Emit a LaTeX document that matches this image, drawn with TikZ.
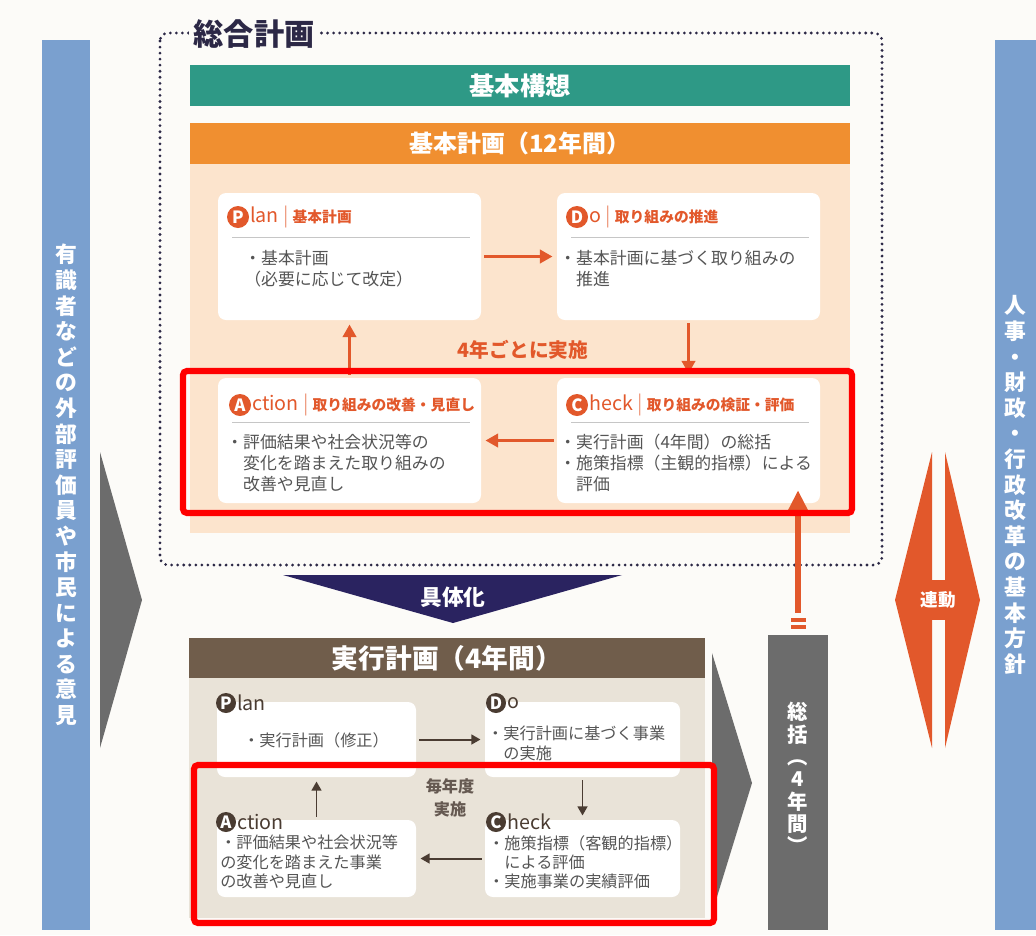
\documentclass[tikz,border=0pt]{standalone}
\usepackage{fontspec}
\setmainfont{Noto Sans CJK JP}
\usetikzlibrary{positioning,fit,arrows.meta}

\definecolor{bgcream}{RGB}{252,251,248}
\definecolor{sideblue}{RGB}{122,160,207}
\definecolor{arrowgray}{RGB}{108,108,108}
\definecolor{kousogreen}{RGB}{46,153,134}
\definecolor{keikakuorange}{RGB}{240,143,48}
\definecolor{peach}{RGB}{252,228,205}
\definecolor{pdcared}{RGB}{226,88,43}
\definecolor{jikkobrown}{RGB}{112,93,75}
\definecolor{beige}{RGB}{233,227,216}
\definecolor{darkbrown}{RGB}{74,60,50}
\definecolor{navy}{RGB}{42,35,96}
\definecolor{titlenavy}{RGB}{44,40,70}
\definecolor{bodygray}{RGB}{85,85,85}
\definecolor{markred}{RGB}{255,0,0}

\newcommand{\labeljp}{\fontsize{10.5}{12}\selectfont\bfseries}

\begin{document}
\begin{tikzpicture}[x=0.025cm, y=-0.025cm, inner sep=0pt,
	tate/.style={text=white, align=center, font=\fontsize{15.5}{18.2}\selectfont\bfseries},
	band/.style={text=white, font=\fontsize{17}{20}\selectfont\bfseries},
	card/.style={fill=white, rounded corners=0.2cm},
	upbody/.style={anchor=north west, align=left, text=bodygray, font=\fontsize{12}{15}\selectfont},
	lowbody/.style={anchor=north west, align=left, text=bodygray, font=\fontsize{11.5}{13.8}\selectfont},
	upletter/.style={circle, fill=pdcared, text=white, minimum size=0.55cm, font=\fontsize{12}{12}\selectfont\bfseries},
	lowletter/.style={circle, fill=darkbrown, text=white, minimum size=0.5cm, font=\fontsize{12}{12}\selectfont\bfseries},
	uplabel/.style={text=pdcared, font=\fontsize{14}{14}\selectfont},
	lowlabel/.style={text=darkbrown, font=\fontsize{14}{14}\selectfont},
	uparrow/.style={draw=pdcared, line width=2.1pt, -{Triangle[length=9pt,width=9.5pt]}, shorten <=2pt, shorten >=3pt},
	lowarrow/.style={draw=darkbrown, line width=1.4pt, -{Triangle[length=6.5pt,width=7pt]}, shorten <=2pt, shorten >=3pt},
	marker/.style={draw=markred, line width=4.4pt, rounded corners=0.1cm}]
%			\draw[help lines] (0,0) grid (1036,935);
			\useasboundingbox (0,0) rectangle (1036,935);
			\fill[bgcream] (0,0) rectangle (1036,935);
			% side bars
			\node[fill=sideblue, fit={(42,40) (90,930)}] (iken) {};
			\node[tate] (ikenT) at (iken) {有\\識\\者\\な\\ど\\の\\外\\部\\評\\価\\員\\や\\市\\民\\に\\よ\\る\\意\\見};
			\node[fill=sideblue, fit={(995,40) (1036,930)}] (hoshin) {};
			\node[tate] (hoshinT) at (hoshin) {人\\事\\・\\財\\政\\・\\行\\政\\改\\革\\の\\基\\本\\方\\針};
			\fill[arrowgray] (100,452) -- (142,600) -- (100,748) -- cycle;
			% sogo keikaku
			\draw[titlenavy, line width=2.2pt, line cap=round, dash pattern=on 0pt off 4.3pt, rounded corners=0.2cm] (160,33) rectangle (882,565);
			\node[fill=bgcream, inner xsep=3pt, text=titlenavy, font=\fontsize{21.5}{22}\selectfont\bfseries] (sogo) at (254,34) {総合計画};
			\node[fill=kousogreen, fit={(190,65) (850,106)}] (koso) {};
			\node[band, font=\fontsize{18}{20}\selectfont\bfseries] (kosoT) at (koso) {基本構想};
			\node[fill=keikakuorange, fit={(190,123) (850,164)}] (kihon) {};
			\node[band] (kihonT) at (kihon) {基本計画（12年間）};
			\fill[peach] (190,164) rectangle (850,533);
			\node[card, fit={(218,193) (481,320)}] (plan) {};
			\node[card, fit={(557,193) (820,320)}] (do) {};
			\node[card, fit={(218,378) (481,503)}] (action) {};
			\node[card, fit={(557,378) (820,503)}] (check) {};
			\node[upletter] (planL) at (238,217) {P};
			\node[uplabel, right=0.5pt of planL] (planT) {lan\kern3pt\textcolor{pdcared!60}{|}\kern3pt{\labeljp 基本計画}};
			\node[upletter] (doL) at (577,217) {D};
			\node[uplabel, right=0.5pt of doL] (doT) {o\kern3pt\textcolor{pdcared!60}{|}\kern3pt{\labeljp 取り組みの推進}};
			\node[upletter] (actionL) at (240,405) {A};
			\node[uplabel, right=0.5pt of actionL] (actionT) {ction\kern3pt\textcolor{pdcared!60}{|}\kern3pt{\labeljp 取り組みの改善・見直し}};
			\node[upletter] (checkL) at (577,405) {C};
			\node[uplabel, right=0.5pt of checkL] (checkT) {heck\kern3pt\textcolor{pdcared!60}{|}\kern3pt{\labeljp 取り組みの検証・評価}};
			\draw[gray!45, line width=0.6pt] (232,237) -- (470,237);
			\draw[gray!45, line width=0.6pt] (571,237) -- (809,237);
			\draw[gray!45, line width=0.6pt] (232,422) -- (470,422);
			\draw[gray!45, line width=0.6pt] (571,422) -- (809,422);
			\node[upbody] (planB) at (244,250) {・基本計画\\（必要に応じて改定）};
			\node[upbody] (doB) at (559,250) {・基本計画に基づく取り組みの\\　推進};
			\node[upbody] (actionB) at (226,434) {・評価結果や社会状況等の\\　変化を踏まえた取り組みの\\　改善や見直し};
			\node[upbody] (checkB) at (559,434) {・実行計画（4年間）の総括\\・施策指標（主観的指標）による\\　評価};
			\draw[uparrow] (plan) -- (do);
			\draw[uparrow] (do) -- (check);
			\draw[uparrow] (check) -- (action);
			\draw[uparrow] (action) -- (plan);
			\node[text=pdcared, font=\fontsize{14}{14}\selectfont\bfseries] (yonen) at (523,350) {4年ごとに実施};
			% jikko keikaku
			\fill[navy] (283,575) -- (622,575) -- (453,623) -- cycle;
			\node[text=white, font=\fontsize{15.5}{16}\selectfont\bfseries] (gutaika) at (453,597) {具体化};
			\node[fill=jikkobrown, fit={(189,638) (705,678)}] (jikko) {};
			\node[band, font=\fontsize{19}{20}\selectfont\bfseries] (jikkoT) at (jikko) {実行計画（4年間）};
			\fill[beige] (189,678) rectangle (705,918);
			\node[card, fit={(217,702) (416,777)}] (plan2) {};
			\node[card, fit={(485,702) (680,777)}] (do2) {};
			\node[card, fit={(217,820) (416,897)}] (action2) {};
			\node[card, fit={(485,820) (680,897)}] (check2) {};
			\node[lowletter] (plan2L) at (226,703) {P};
			\node[lowlabel, right=0.5pt of plan2L] (plan2T) {lan};
			\node[lowletter] (do2L) at (496,703) {D};
			\node[lowlabel, right=0.5pt of do2L] (do2T) {o};
			\node[lowletter] (action2L) at (226,822) {A};
			\node[lowlabel, right=0.5pt of action2L] (action2T) {ction};
			\node[lowletter] (check2L) at (496,822) {C};
			\node[lowlabel, right=0.5pt of check2L] (check2T) {heck};
			\node[lowbody] (plan2B) at (243,732) {・実行計画（修正）};
			\node[lowbody] (do2B) at (487,726) {・実行計画に基づく事業\\　の実施};
			\node[lowbody] (action2B) at (220,835) {・評価結果や社会状況等\\の変化を踏まえた事業\\の改善や見直し};
			\node[lowbody] (check2B) at (488,835) {・施策指標（客観的指標）\\　による評価\\・実施事業の実績評価};
			\draw[lowarrow] (plan2) -- (do2);
			\draw[lowarrow] (do2) -- (check2);
			\draw[lowarrow] (check2) -- (action2);
			\draw[lowarrow] (action2) -- (plan2);
			\node[align=center, text=darkbrown!85, font=\fontsize{11.5}{16}\selectfont\bfseries] (maiendo) at (450,798) {毎年度\\実施};
			\fill[arrowgray] (712,653) -- (752,783) -- (712,913) -- cycle;
			% sokatsu
			\node[fill=arrowgray, fit={(768,635) (828,930)}] (sokatsu) {};
			\node[tate, font=\fontsize{14.5}{15.9}\selectfont\bfseries] (sokatsuT) at (798,778) {総\\括\\︵\\4\\年\\間\\︶};
			\draw[draw=pdcared, line width=3.6pt, -{Triangle[length=15pt,width=14pt]}] ([yshift=0.55cm]sokatsu.north) -- ([yshift=0.325cm]sokatsu.north |- check.south);
			\fill[pdcared] (790.5,618) rectangle (805.5,622);
			\fill[pdcared] (790.5,625) rectangle (805.5,629);
			% rendo
			\fill[pdcared] (932,452) -- (895,600) -- (932,748) -- cycle;
			\fill[pdcared] (945,452) -- (980,600) -- (945,748) -- cycle;
			\fill[pdcared] (931,580) rectangle (946,620);
			\node[text=white, font=\fontsize{12.5}{13}\selectfont\bfseries] (rendo) at (938,600) {連動};
			% highlight
			\draw[marker] (183,371) rectangle (852,513);
			\draw[marker] (194,765) rectangle (714,923);
		\end{tikzpicture}
\end{document}
